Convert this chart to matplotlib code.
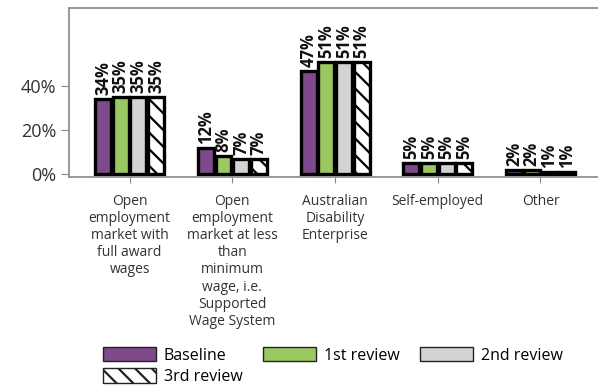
import numpy as np
import matplotlib.pyplot as plt

plt.rcParams['font.family'] = ['Open Sans', 'DejaVu Sans']

categories = ['Open\nemployment\nmarket with\nfull award\nwages',
              'Open\nemployment\nmarket at less\nthan\nminimum\nwage, i.e.\nSupported\nWage System',
              'Australian\nDisability\nEnterprise',
              'Self-employed',
              'Other']
series = ['Baseline', '1st review', '2nd review', '3rd review']
baseline = [34, 12, 47, 5, 2]
review1 = [35, 8, 51, 5, 2]
review2 = [35, 7, 51, 5, 1]
review3 = [35, 7, 51, 5, 1]

values = [baseline, review1, review2, review3]
colors = ['#7e4a8c', '#9bc862', '#d2d3d5', 'white']
hatches = [None, None, None, '\\\\']

fig = plt.figure(figsize=(5.98, 3.92), dpi=100)
ax = fig.add_axes([69/598, 1 - 177/392, 1 - 69/598, 169/392])

x = np.arange(len(categories))
w = 0.155
step = 0.172
plt.rcParams['hatch.linewidth'] = 1.6
bars = []
for i, (name, vals) in enumerate(zip(series, values)):
    pos = x + (i - 1.5) * step
    b = ax.bar(pos, vals, width=w, color=colors[i], edgecolor='black',
               linewidth=2.4, hatch=hatches[i], label=name)
    bars.append(b)
    for p, v in zip(pos, vals):
        ax.text(p, v + 1.8, f'{v}%', rotation=90, ha='center', va='bottom',
                fontsize=12, fontweight='bold', color='#111111')

ax.set_xlim(-0.59, 4.56)
ax.set_ylim(-1.4, 75.5)
ax.set_yticks([0, 20, 40])
ax.set_yticklabels(['0%', '20%', '40%'], fontsize=13, color='#333333')
ax.set_xticks(x)
ax.set_xticklabels(categories, fontsize=10, color='#333333', linespacing=1.2)
ax.tick_params(axis='y', length=6, color='#888888', pad=3)
ax.tick_params(axis='x', length=4, color='#888888', pad=8)
for s in ax.spines.values():
    s.set_color('#888888')
    s.set_linewidth(1.2)
ax.spines['right'].set_visible(False)

# row-major order in a 3 column legend
order = [0, 3, 1, 2]
leg = ax.legend([bars[k] for k in order], [series[k] for k in order],
                loc='upper left', bbox_to_anchor=(103/598, 1 - 347/392),
                bbox_transform=fig.transFigure,
                ncol=3, frameon=False, fontsize=11.5, handlelength=3.3, handleheight=1.0,
                columnspacing=1.3, handletextpad=0.5, labelspacing=0.3,
                borderaxespad=0, borderpad=0)
for h in leg.legend_handles:
    h.set_linewidth(1.0)
    h.set_edgecolor('#222222')

plt.savefig('out.png')
